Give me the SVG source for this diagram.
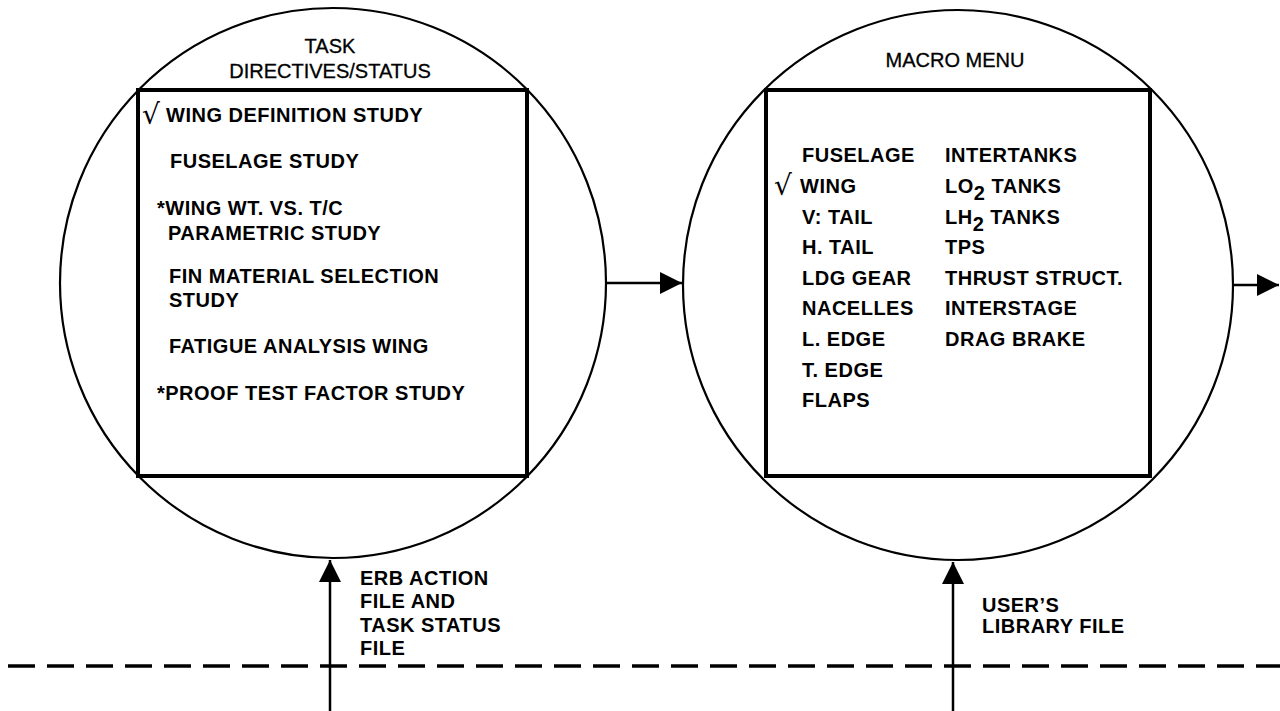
<svg xmlns="http://www.w3.org/2000/svg" width="1280" height="711" viewBox="0 0 1280 711">
<style>
.circ{fill:none;stroke:#000;stroke-width:2.2}
.box{fill:none;stroke:#000;stroke-width:4}
.t{font-family:"Liberation Sans",Arial,sans-serif;font-size:20px;font-weight:bold;letter-spacing:0.5px;fill:#000}
.h{font-family:"Liberation Sans",Arial,sans-serif;font-size:20px;fill:#000;stroke:#000;stroke-width:0.3}
.ck{font-family:"DejaVu Sans",sans-serif;font-size:28px;fill:#000}
.ln{stroke:#000;stroke-width:2.5;fill:none}
</style>
<defs>
<marker id="ah" viewBox="0 0 22 22" refX="22" refY="11" markerWidth="22" markerHeight="22" markerUnits="userSpaceOnUse" orient="auto">
<path d="M0,0 L22,11 L0,22 Z" fill="#000"/>
</marker>
</defs>
<rect width="1280" height="711" fill="#fff"/>
<g id="task-directives">
<ellipse class="circ" cx="333" cy="283" rx="273" ry="275"/>
<rect class="box" x="138" y="90" width="389" height="386"/>
<text class="h" x="330" y="53" text-anchor="middle">TASK</text>
<text class="h" x="330" y="78" text-anchor="middle">DIRECTIVES/STATUS</text>
<text class="ck" x="142" y="124">√</text>
<text class="t" x="166" y="122">WING DEFINITION STUDY</text>
<text class="t" x="170" y="168">FUSELAGE STUDY</text>
<text class="t" x="157" y="215">*WING WT. VS. T/C</text>
<text class="t" x="168" y="240">PARAMETRIC STUDY</text>
<text class="t" x="169" y="283">FIN MATERIAL SELECTION</text>
<text class="t" x="169" y="307">STUDY</text>
<text class="t" x="169" y="353">FATIGUE ANALYSIS WING</text>
<text class="t" x="157" y="400">*PROOF TEST FACTOR STUDY</text>
</g>
<g id="macro-menu">
<ellipse class="circ" cx="958" cy="285" rx="275" ry="275"/>
<rect class="box" x="766" y="90" width="384" height="386"/>
<text class="h" x="955" y="67" text-anchor="middle">MACRO MENU</text>
<text class="t" x="802" y="162">FUSELAGE</text>
<text class="ck" x="774" y="195">√</text>
<text class="t" x="800" y="193">WING</text>
<text class="t" x="802" y="224">V: TAIL</text>
<text class="t" x="802" y="254">H. TAIL</text>
<text class="t" x="802" y="285">LDG  GEAR</text>
<text class="t" x="802" y="315">NACELLES</text>
<text class="t" x="802" y="346">L. EDGE</text>
<text class="t" x="802" y="377">T. EDGE</text>
<text class="t" x="802" y="407">FLAPS</text>
<text class="t" x="945" y="162">INTERTANKS</text>
<text class="t" x="945" y="193">LO<tspan dy="7">2</tspan><tspan dy="-7"> TANKS</tspan></text>
<text class="t" x="945" y="224">LH<tspan dy="7">2</tspan><tspan dy="-7"> TANKS</tspan></text>
<text class="t" x="945" y="254">TPS</text>
<text class="t" x="945" y="285">THRUST STRUCT.</text>
<text class="t" x="945" y="315">INTERSTAGE</text>
<text class="t" x="945" y="346">DRAG BRAKE</text>
</g>
<g id="labels">
<text class="t" x="360" y="585">ERB ACTION</text>
<text class="t" x="360" y="608">FILE AND</text>
<text class="t" x="360" y="632">TASK STATUS</text>
<text class="t" x="360" y="655">FILE</text>
<text class="t" x="982" y="612">USER’S</text>
<text class="t" x="982" y="633">LIBRARY FILE</text>
</g>
<g id="connectors">
<line class="ln" x1="606" y1="283" x2="682" y2="283" marker-end="url(#ah)"/>
<line class="ln" x1="1233" y1="285" x2="1279" y2="285" marker-end="url(#ah)"/>
<line class="ln" x1="330" y1="711" x2="330" y2="560" marker-end="url(#ah)"/>
<line class="ln" x1="953" y1="711" x2="953" y2="562" marker-end="url(#ah)"/>
<line x1="8" y1="666" x2="1280" y2="666" stroke="#000" stroke-width="3.5" stroke-dasharray="27 12"/>
</g>
</svg>
